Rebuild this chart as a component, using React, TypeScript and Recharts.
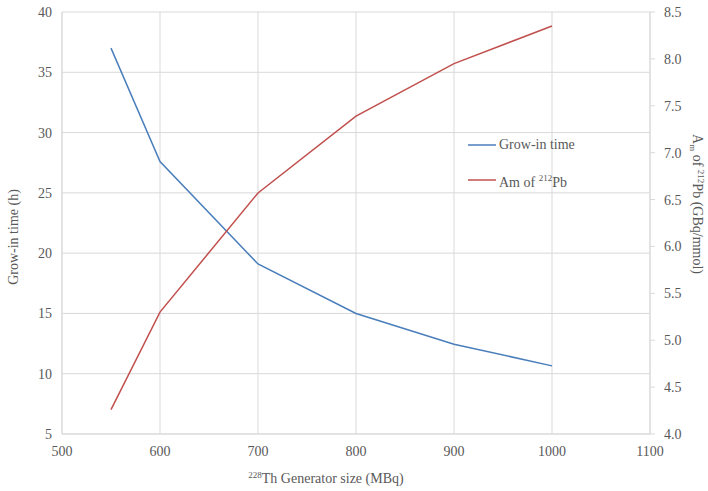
import React from "react";
import { LineChart, Line, XAxis, YAxis, CartesianGrid } from "recharts";

const generatorSize = [550, 600, 700, 800, 900, 1000];
const growInTime = [37.0, 27.6, 19.1, 15.0, 12.45, 10.65];
const amPb = [4.26, 5.3, 6.57, 7.39, 7.95, 8.35];

const xTicks = [500, 600, 700, 800, 900, 1000, 1100];
const leftTicks = [5, 10, 15, 20, 25, 30, 35, 40];
const rightTicks = [4.0, 4.5, 5.0, 5.5, 6.0, 6.5, 7.0, 7.5, 8.0, 8.5];

const data = generatorSize.map((x, i) => ({
  size: x,
  grow: growInTime[i],
  am: amPb[i],
}));

const FONT = "serif";
const TXT = "#595959";
const GRID = "#d9d9d9";
const BLUE = "#4a7ebb";
const RED = "#c0504d";

const LegendBox = () => (
  <div
    style={{
      position: "absolute",
      left: 468,
      top: 135,
      fontFamily: FONT,
      fontSize: 14,
      color: TXT,
      lineHeight: "14px",
    }}
  >
    <div style={{ display: "flex", alignItems: "center", height: 20 }}>
      <svg width={31} height={10}>
        <line x1={0} y1={5} x2={28} y2={5} stroke={BLUE} strokeWidth={1.5} />
      </svg>
      <span>Grow-in time</span>
    </div>
    <div style={{ display: "flex", alignItems: "center", height: 20, marginTop: 15 }}>
      <svg width={31} height={10}>
        <line x1={0} y1={5} x2={28} y2={5} stroke={RED} strokeWidth={1.5} />
      </svg>
      <span>
        Am of <sup style={{ fontSize: 9 }}>212</sup>Pb
      </span>
    </div>
  </div>
);

const tickStyle = { fontFamily: FONT, fontSize: 14, fill: TXT };

export default function App() {
  return (
    <div
      style={{
        position: "absolute",
        left: 0,
        top: 0,
        width: 708,
        height: 491,
        background: "#fff",
        fontFamily: FONT,
      }}
    >
      <LineChart
        width={708}
        height={491}
        data={data}
        margin={{ top: 12, right: 0, bottom: 0, left: 0 }}
        style={{ fontFamily: FONT }}
      >
        <CartesianGrid
          yAxisId="left"
          stroke={GRID}
          strokeWidth={1}
          horizontalValues={leftTicks}
          verticalValues={xTicks}
        />
        <XAxis
          dataKey="size"
          type="number"
          domain={[500, 1100]}
          ticks={xTicks}
          height={57}
          axisLine={{ stroke: GRID }}
          tickLine={false}
          tickSize={0}
          tickMargin={12}
          tick={tickStyle}
          interval={0}
          label={() => (
            <text x={326} y={483} textAnchor="middle" style={{ fontFamily: FONT }} fontSize={14} fill={TXT}>
              <tspan fontSize={9} dy={-5}>228</tspan>
              <tspan dy={5}>Th Generator size (MBq)</tspan>
            </text>
          )}
        />
        <YAxis
          yAxisId="left"
          orientation="left"
          type="number"
          domain={[5, 40]}
          ticks={leftTicks}
          width={62}
          axisLine={{ stroke: GRID }}
          tickLine={false}
          tickSize={0}
          tickMargin={10}
          tick={tickStyle}
          interval={0}
          label={() => (
            <text
              x={18}
              y={237}
              transform="rotate(-90 18 237)"
              textAnchor="middle"
              style={{ fontFamily: FONT }}
              fontSize={14}
              fill={TXT}
            >
              Grow-in time (h)
            </text>
          )}
        />
        <YAxis
          yAxisId="right"
          orientation="right"
          type="number"
          domain={[4, 8.5]}
          ticks={rightTicks}
          width={58}
          axisLine={{ stroke: GRID }}
          tickLine={{ stroke: GRID }}
          tickSize={5}
          tickMargin={9}
          tickFormatter={(v: number) => v.toFixed(1)}
          tick={tickStyle}
          interval={0}
          label={() => (
            <text
              x={693}
              y={204}
              transform="rotate(90 693 204)"
              textAnchor="middle"
              style={{ fontFamily: FONT }}
              fontSize={14}
              fill={TXT}
            >
              <tspan>A</tspan>
              <tspan fontSize={9} dy={3}>m</tspan>
              <tspan dy={-3}> of </tspan>
              <tspan fontSize={9} dy={-5}>212</tspan>
              <tspan dy={5}>Pb (GBq/mmol)</tspan>
            </text>
          )}
        />
        <Line
          yAxisId="left"
          type="linear"
          dataKey="grow"
          name="Grow-in time"
          stroke={BLUE}
          strokeWidth={1.5}
          dot={false}
          isAnimationActive={false}
        />
        <Line
          yAxisId="right"
          type="linear"
          dataKey="am"
          name="Am of 212Pb"
          stroke={RED}
          strokeWidth={1.5}
          dot={false}
          isAnimationActive={false}
        />
      </LineChart>
      <LegendBox />
    </div>
  );
}
